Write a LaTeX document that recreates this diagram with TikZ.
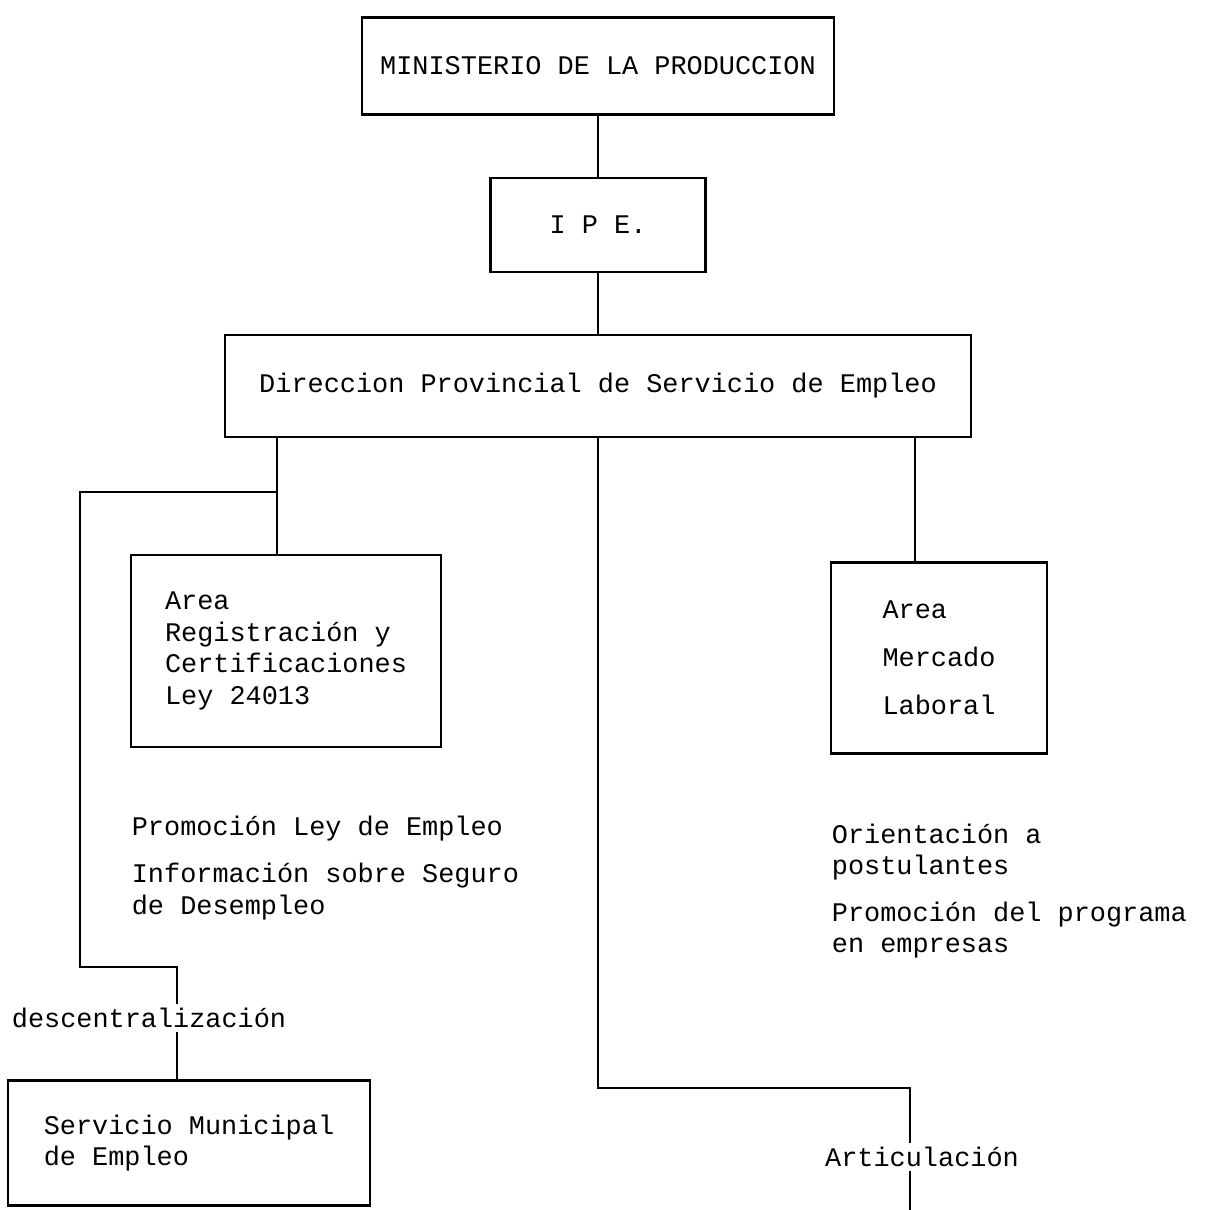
\documentclass[tikz,border=0pt]{standalone}
\usepackage{fontspec}
\newfontfamily\maquina{Liberation Mono}
\usepackage{tikz}

\begin{document}
\begin{tikzpicture}[x=0.02cm,y=-0.02cm,font=\maquina\fontsize{15.3}{18}\selectfont]
\tikzstyle{caja}=[rectangle,draw,line width=1.2pt,inner sep=0pt]
\tikzstyle{texto}=[rectangle,align=left,inner sep=2pt]
\tikzstyle{linea}=[line width=1.2pt]
\useasboundingbox (0,0) rectangle (1208,1210);
\node [caja,minimum width=9.44cm,minimum height=1.94cm] (min) at (598,66) {MINISTERIO DE LA PRODUCCION};
\node [caja,minimum width=4.3cm,minimum height=1.88cm] (ipe) at (598,225) {I P E.};
\node [caja,minimum width=14.94cm,minimum height=2.04cm] (dir) at (598,386) {Direccion Provincial de Servicio de Empleo};
\node [caja,align=left,minimum width=6.2cm,minimum height=3.84cm] (areg) at (286,651) {Area\\Registración y\\Certificaciones\\Ley 24013};
\node [caja,align=left,minimum width=4.32cm,minimum height=3.82cm] (amer) at (939,658) {Area\\[0.33cm]Mercado\\[0.33cm]Laboral};
\node [caja,align=left,minimum width=7.24cm,minimum height=2.5cm] (smun) at (189,1143) {Servicio Municipal\\de Empleo};
\node [texto,anchor=west] (promo) at (128,868) {Promoción Ley de Empleo\\[0.3cm]Información sobre Seguro\\de Desempleo};
\node [texto,anchor=west] (orient) at (828,891) {Orientación a\\postulantes\\[0.3cm]Promoción del programa\\en empresas};
\node [texto] (desc) at (149,1018) {descentralización};
\node [texto] (artic) at (922,1157) {Articulación};
\coordinate (jL) at (277,492);
\coordinate (cL) at (80,492);
\coordinate (cD) at (177,967);
\coordinate (jR) at (915,563);
\coordinate (mB) at (598,1088);
\coordinate (mR) at (910,1088);
\coordinate (aEnd) at (910,1210);
\draw [linea] (min.south) -- (ipe.north);
\draw [linea] (ipe.south) -- (dir.north);
\draw [linea] (dir.south -| jL) -- (jL) -- (jL |- areg.north);
\draw [linea] (jL) -- (cL) -- (cL |- cD) -- (cD) -- (cD |- desc.north);
\draw [linea] (cD |- desc.south) -- (cD |- smun.north);
\draw [linea] (dir.south -| jR) -- (jR |- amer.north);
\draw [linea] (dir.south) -- (mB) -- (mR) -- (mR |- artic.north);
\draw [linea] (mR |- artic.south) -- (aEnd);
\end{tikzpicture}
\end{document}
